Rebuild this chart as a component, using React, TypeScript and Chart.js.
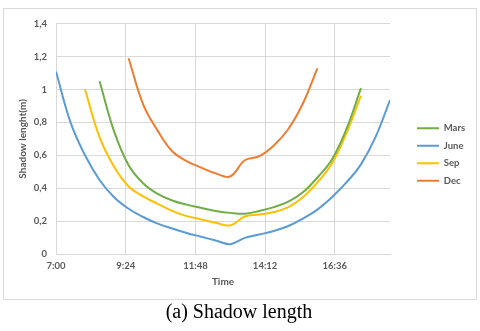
import React, { useEffect, useRef } from 'react';
import { Chart, registerables } from 'chart.js';

Chart.register(...registerables);

// ---- data ----
const seriesNames = ['Mars', 'June', 'Sep', 'Dec'];
const seriesColors = ['#70AD47', '#5B9BD5', '#FFC000', '#ED7D31'];
const tickLabels = ['7:00', '9:24', '11:48', '14:12', '16:36'];
const axisStart = '7:00';
const axisEnd = '18:30';
const yTicks = [0, 0.2, 0.4, 0.6, 0.8, 1, 1.2, 1.4];

const marsTimes = ['8:30', '9:00', '9:30', '10:00', '10:30', '11:00', '11:30', '12:00', '12:30', '13:00', '13:30', '14:00', '14:30', '15:00', '15:30', '16:00', '16:30', '17:00', '17:30'];
const marsValues = [1.05, 0.745, 0.54, 0.43, 0.365, 0.325, 0.30, 0.28, 0.262, 0.25, 0.245, 0.262, 0.285, 0.318, 0.375, 0.465, 0.575, 0.76, 1.008];

const juneTimes = ['7:00', '7:30', '8:00', '8:30', '9:00', '9:30', '10:00', '10:30', '11:00', '11:30', '12:00', '12:30', '13:00', '13:30', '14:00', '14:30', '15:00', '15:30', '16:00', '16:30', '17:00', '17:30', '18:00', '18:30'];
const juneValues = [1.11, 0.80, 0.60, 0.45, 0.345, 0.275, 0.225, 0.185, 0.155, 0.128, 0.105, 0.082, 0.06, 0.098, 0.118, 0.14, 0.17, 0.215, 0.27, 0.345, 0.435, 0.545, 0.71, 0.936];

const sepTimes = ['8:00', '8:30', '9:00', '9:30', '10:00', '10:30', '11:00', '11:30', '12:00', '12:30', '13:00', '13:30', '14:00', '14:30', '15:00', '15:30', '16:00', '16:30', '17:00', '17:30'];
const sepValues = [1.0, 0.71, 0.53, 0.41, 0.35, 0.305, 0.262, 0.23, 0.21, 0.19, 0.174, 0.228, 0.24, 0.255, 0.285, 0.345, 0.435, 0.55, 0.735, 0.962];

const decTimes = ['9:30', '10:00', '10:30', '11:00', '11:30', '12:00', '12:30', '13:00', '13:30', '14:00', '14:30', '15:00', '15:30', '16:00'];
const decValues = [1.19, 0.91, 0.75, 0.625, 0.565, 0.525, 0.49, 0.472, 0.57, 0.595, 0.66, 0.76, 0.915, 1.128];

const seriesTimes = [marsTimes, juneTimes, sepTimes, decTimes];
const seriesValues = [marsValues, juneValues, sepValues, decValues];

const toMin = (s: string) => {
  const [h, m] = s.split(':').map(Number);
  return h * 60 + m;
};
const fmtTime = (v: number) => `${Math.floor(v / 60)}:${String(Math.round(v % 60)).padStart(2, '0')}`;

const FONT = 'Lato, "Open Sans", "DejaVu Sans", sans-serif';
const TEXT = '#595959';
const GRID = '#d9d9d9';

const legendShift = {
  id: 'legendShift',
  afterLayout(chart: any) {
    const lg = chart.legend;
    if (!lg) return;
    const dx = 19;
    const dy = -5;
    lg.left += dx;
    lg.right += dx;
    lg.top += dy;
    lg.bottom += dy;
  },
};

export default function App() {
  const ref = useRef<HTMLCanvasElement | null>(null);

  useEffect(() => {
    if (!ref.current) return;
    const datasets = seriesNames.map((name, i) => ({
      label: name,
      data: seriesTimes[i].map((t, j) => ({ x: toMin(t), y: seriesValues[i][j] })),
      borderColor: seriesColors[i],
      backgroundColor: seriesColors[i],
      borderWidth: 2,
      pointRadius: 0,
      pointHoverRadius: 0,
      fill: false,
      tension: 0.4,
    }));

    const chart = new Chart(ref.current, {
      type: 'line',
      data: { datasets },
      plugins: [legendShift],
      options: {
        animation: false,
        responsive: false,
        maintainAspectRatio: false,
        layout: { padding: { top: 11, right: 0, bottom: 0, left: 0 } },
        plugins: {
          tooltip: { enabled: false },
          legend: {
            position: 'right',
            labels: {
              usePointStyle: true,
              pointStyle: 'line',
              pointStyleWidth: 22,
              padding: 8,
              color: TEXT,
              font: { family: FONT, size: 9.5, weight: 'bold' },
            },
          },
        },
        scales: {
          x: {
            type: 'linear',
            min: toMin(axisStart),
            max: toMin(axisEnd),
            afterBuildTicks: (scale: any) => {
              scale.ticks = tickLabels.map((s) => ({ value: toMin(s) }));
            },
            afterFit: (scale: any) => {
              scale.height = 45;
              scale.paddingRight = 86;
            },
            ticks: {
              callback: (v: any) => fmtTime(Number(v)),
              color: TEXT,
              font: { family: FONT, size: 9.5, weight: 'bold' },
              padding: 6,
              maxRotation: 0,
            },
            grid: { color: GRID, lineWidth: 1, drawTicks: false },
            border: { color: GRID, width: 1 },
            title: {
              display: true,
              text: 'Time',
              color: TEXT,
              font: { family: FONT, size: 10, weight: 'bold' },
              padding: { top: 0, bottom: 11 },
            },
          },
          y: {
            min: 0,
            max: 1.4,
            afterBuildTicks: (scale: any) => {
              scale.ticks = yTicks.map((v) => ({ value: v }));
            },
            afterFit: (scale: any) => {
              scale.width = 52;
            },
            ticks: {
              callback: (v: any) => String(Math.round(Number(v) * 10) / 10).replace('.', ','),
              color: TEXT,
              font: { family: FONT, size: 9.5, weight: 'bold' },
              padding: 9,
            },
            grid: { color: GRID, lineWidth: 1, drawTicks: false },
            border: { color: GRID, width: 1 },
            title: {
              display: true,
              text: 'Shadow lenght(m)',
              color: TEXT,
              font: { family: FONT, size: 10, weight: 'bold' },
              padding: { top: 13, bottom: 0 },
            },
          },
        },
      },
    });
    return () => chart.destroy();
  }, []);

  return (
    <div style={{ position: 'fixed', left: 0, top: 0, width: 480, height: 331, background: '#fff' }}>
      <div
        style={{
          position: 'absolute',
          left: 3,
          top: 8,
          width: 472,
          height: 290,
          border: '1px solid #d9d9d9',
        }}
      />
      <canvas
        ref={ref}
        width={472}
        height={290}
        style={{ position: 'absolute', left: 4, top: 9, width: 472, height: 290 }}
      />
      <div
        style={{
          position: 'absolute',
          left: -1,
          top: 301,
          width: 480,
          textAlign: 'center',
          fontFamily: '"Liberation Serif", "Times New Roman", serif',
          fontSize: 20,
          lineHeight: '20px',
          color: '#000',
        }}
      >
        (a) Shadow length
      </div>
    </div>
  );
}
